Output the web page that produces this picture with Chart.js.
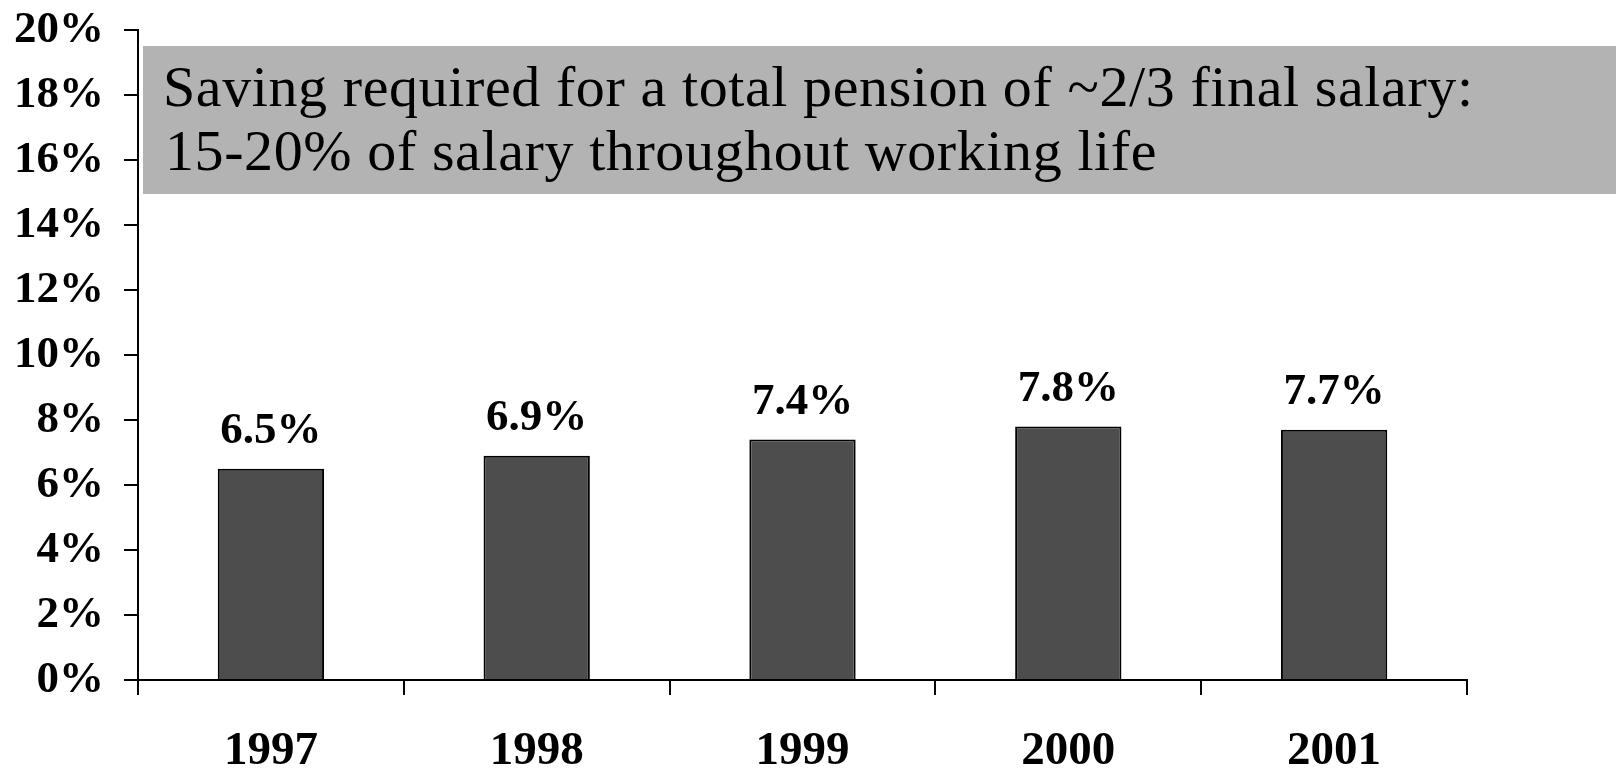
<!DOCTYPE html>
<html>
<head>
<meta charset="utf-8">
<script src="https://cdn.jsdelivr.net/npm/chart.js@4/dist/chart.umd.min.js"></script>
<style>
  html, body { margin: 0; padding: 0; background: #fff; }
  #wrap { width: 1616px; height: 768px; }
</style>
</head>
<body>
<div id="wrap"><canvas id="chart" width="1616" height="768"></canvas></div>
<script>
const years = ['1997', '1998', '1999', '2000', '2001'];
const savingRate = [6.5, 6.9, 7.4, 7.8, 7.7];
const yTicks = [0, 2, 4, 6, 8, 10, 12, 14, 16, 18, 20];
const boxLines = [
    'Saving required for a total pension of ~2/3 final salary:',
    '15-20% of salary throughout working life'
];

const boldSerif = 'bold 45px "Liberation Serif", "Times New Roman", serif';

// value labels above each bar
const valueLabels = {
    id: 'valueLabels',
    afterDatasetsDraw(chart) {
        const ctx = chart.ctx;
        const meta = chart.getDatasetMeta(0);
        ctx.save();
        ctx.font = boldSerif;
        ctx.fillStyle = '#000';
        ctx.textAlign = 'center';
        ctx.textBaseline = 'alphabetic';
        meta.data.forEach((bar, i) => {
            ctx.fillText(savingRate[i].toFixed(1) + '%', bar.x, bar.y - 26);
        });
        ctx.restore();
    }
};

// grey note box in the upper part of the plot
const noteBox = {
    id: 'noteBox',
    afterDraw(chart) {
        const ctx = chart.ctx;
        ctx.save();
        ctx.fillStyle = '#b3b3b3';
        ctx.fillRect(143, 46, 1616 - 143, 148);
        ctx.fillStyle = '#000';
        ctx.font = '58px "Liberation Serif", "Times New Roman", serif';
        ctx.letterSpacing = '0.6px';
        ctx.textAlign = 'left';
        ctx.textBaseline = 'alphabetic';
        ctx.fillText(boxLines[0], 163, 106);
        ctx.fillText(boxLines[1], 165, 170);
        ctx.restore();
    }
};

const ctx = document.getElementById('chart').getContext('2d');
new Chart(ctx, {
    type: 'bar',
    data: {
        labels: years,
        datasets: [{
            data: savingRate,
            backgroundColor: '#4d4d4d',
            borderColor: '#000',
            borderWidth: 2,
            barPercentage: 0.4,
            categoryPercentage: 1
        }]
    },
    options: {
        responsive: false,
        animation: false,
        devicePixelRatio: 1,
        layout: { padding: { top: 30, right: 149, left: 0, bottom: 0 } },
        plugins: {
            legend: { display: false },
            tooltip: { enabled: false }
        },
        scales: {
            x: {
                afterFit: (scale) => {
                    scale.height = 88;
                    scale.paddingLeft = 0;
                    scale.paddingRight = 0;
                },
                grid: {
                    offset: true,
                    drawOnChartArea: false,
                    drawTicks: true,
                    tickLength: 15,
                    color: '#000',
                    lineWidth: 2
                },
                border: { color: '#000', width: 2 },
                ticks: {
                    color: '#000',
                    font: { family: '"Liberation Serif", serif', size: 47, weight: 'bold' },
                    padding: 29,
                    maxRotation: 0
                }
            },
            y: {
                min: 0,
                max: 20,
                afterFit: (scale) => {
                    scale.width = 138;
                    scale.paddingTop = 0;
                    scale.paddingBottom = 0;
                },
                afterBuildTicks: (scale) => { scale.ticks = yTicks.map(v => ({ value: v })); },
                grid: {
                    drawOnChartArea: false,
                    drawTicks: true,
                    tickLength: 14,
                    color: '#000',
                    lineWidth: 2
                },
                border: { color: '#000', width: 2 },
                ticks: {
                    color: '#000',
                    font: { family: '"Liberation Serif", serif', size: 45, weight: 'bold' },
                    padding: 20,
                    callback: (v) => v + '%'
                }
            }
        }
    },
    plugins: [valueLabels, noteBox]
});
</script>
</body>
</html>
